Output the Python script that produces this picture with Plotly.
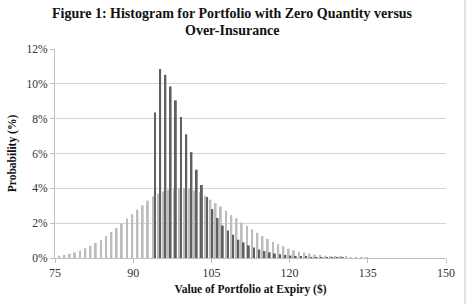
import plotly.graph_objects as go

# Data (probability in %)
light_x = list(range(76, 136))
light_y = [0.13, 0.17, 0.24, 0.32, 0.43, 0.56, 0.70, 0.86, 1.05, 1.26,
           1.50, 1.72, 1.99, 2.27, 2.52, 2.77, 3.02, 3.29, 3.54, 3.69,
           3.82, 3.92, 3.98, 4.01, 4.01, 3.98, 3.88, 3.77, 3.57, 3.35,
           3.15, 2.95, 2.72, 2.47, 2.28, 2.03, 1.84, 1.65, 1.45, 1.26,
           1.10, 0.93, 0.80, 0.68, 0.54, 0.45, 0.36, 0.31, 0.26, 0.20,
           0.17, 0.13, 0.11, 0.09, 0.07, 0.06, 0.05, 0.04, 0.03, 0.02]

dark_x = list(range(94, 131))
dark_y = [8.36, 10.85, 10.52, 9.85, 9.05, 8.09, 7.10, 6.08, 5.07, 4.19,
          3.50, 2.81, 2.30, 1.87, 1.58, 1.34, 1.05, 0.90, 0.72, 0.60,
          0.49, 0.40, 0.33, 0.26, 0.22, 0.18, 0.14, 0.12, 0.09, 0.07,
          0.05, 0.04, 0.03, 0.02, 0.02, 0.01, 0.01]

x_ticks = [75, 90, 105, 120, 135, 150]
y_ticks = [0, 2, 4, 6, 8, 10, 12]
y_labels = [f"{v}%" for v in y_ticks]

FONT = "Liberation Serif"
PW, PH = 391, 209  # plot area size in px

fig = go.Figure()
fig.add_trace(go.Bar(x=light_x, y=light_y, width=0.36, offset=-0.36,
                     marker=dict(color="#bdbdbd", line=dict(width=0)),
                     name="Zero Quantity"))
fig.add_trace(go.Bar(x=dark_x, y=dark_y, width=0.36, offset=0.0,
                     marker=dict(color="#606060", line=dict(width=0)),
                     name="Over-Insurance"))

fig.update_layout(
    width=467, height=304,
    margin=dict(l=55, r=21, t=49, b=46),
    paper_bgcolor="white", plot_bgcolor="white",
    barmode="overlay",
    showlegend=False,
    font=dict(family=FONT, color="#222222"),
    xaxis=dict(range=[75, 150], tickvals=x_ticks, ticktext=[str(v) for v in x_ticks],
               showgrid=False, zeroline=False,
               showline=True, linecolor="#bfbfbf", linewidth=1,
               ticks="outside", ticklen=4, tickcolor="#bfbfbf",
               tickfont=dict(family=FONT, size=12, color="#333333"),
               title=dict(text="<b>Value of Portfolio at Expiry ($)</b>",
                          font=dict(family=FONT, size=11.5, color="#111111"),
                          standoff=5)),
    yaxis=dict(range=[0, 12], tickvals=y_ticks, ticktext=y_labels,
               showgrid=True, gridcolor="#d4d4d4", gridwidth=1,
               zeroline=False,
               showline=True, linecolor="#bfbfbf", linewidth=1,
               ticks="outside", ticklen=4, tickcolor="#bfbfbf",
               tickfont=dict(family=FONT, size=11.5, color="#333333"),
               title=dict(text="<b>Probability (%)</b>",
                          font=dict(family=FONT, size=11.5, color="#111111"),
                          standoff=7)),
)

# Title (two centred lines)
for txt, ypx in [("Figure 1: Histogram for Portfolio with Zero Quantity versus", 14),
                 ("Over-Insurance", 30)]:
    fig.add_annotation(text=f"<b>{txt}</b>", xref="paper", yref="paper",
                       x=(232 - 55) / PW, y=1 + (49 - ypx) / PH,
                       xanchor="center", yanchor="middle", showarrow=False,
                       font=dict(family=FONT, size=14, color="#111111"))

# right-hand page border
fig.add_shape(type="line", xref="paper", yref="paper",
              x0=(465 - 55) / PW, x1=(465 - 55) / PW, y0=-46 / PH, y1=1 + 49 / PH,
              line=dict(color="#e3e3e3", width=2))

fig.write_html("out.html")
